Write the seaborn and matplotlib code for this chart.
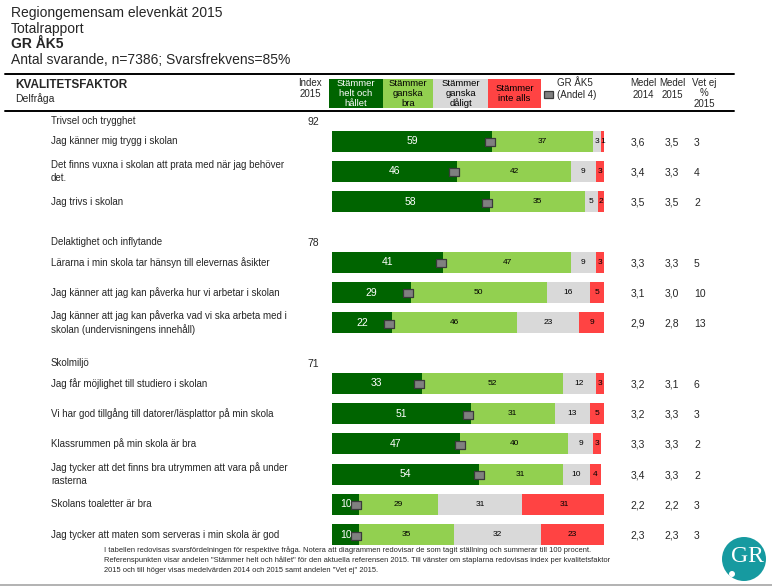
import matplotlib
matplotlib.use("Agg")
import matplotlib.pyplot as plt
import matplotlib.transforms as mtransforms
from matplotlib.patches import Rectangle, Ellipse
from matplotlib.lines import Line2D
import numpy as np
import seaborn as sns

# ---------------- data ----------------
groups = ["Trivsel och trygghet", "Delaktighet och inflytande", "Skolmiljö"]
index_2015 = [92, 78, 71]

questions = [
    "Jag känner mig trygg i skolan",
    "Det finns vuxna i skolan att prata med när jag behöver\ndet.",
    "Jag trivs i skolan",
    "Lärarna i min skola tar hänsyn till elevernas åsikter",
    "Jag känner att jag kan påverka hur vi arbetar i skolan",
    "Jag känner att jag kan påverka vad vi ska arbeta med i\nskolan (undervisningens innehåll)",
    "Jag får möjlighet till studiero i skolan",
    "Vi har god tillgång till datorer/läsplattor på min skola",
    "Klassrummen på min skola är bra",
    "Jag tycker att det finns bra utrymmen att vara på under\nrasterna",
    "Skolans toaletter är bra",
    "Jag tycker att maten som serveras i min skola är god",
]
question_group = [0, 0, 0, 1, 1, 1, 2, 2, 2, 2, 2, 2]

helt_och_hallet = [59, 46, 58, 41, 29, 22, 33, 51, 47, 54, 10, 10]
ganska_bra = [37, 42, 35, 47, 50, 46, 52, 31, 40, 31, 29, 35]
ganska_daligt = [3, 9, 5, 9, 16, 23, 12, 13, 9, 10, 31, 32]
inte_alls = [1, 3, 2, 3, 5, 9, 3, 5, 3, 4, 31, 23]
gr_ak5_andel4 = [58, 45, 57, 40, 28, 21, 32, 50, 47, 54, 9, 9]

medel_2014 = [3.6, 3.4, 3.5, 3.3, 3.1, 2.9, 3.2, 3.2, 3.3, 3.4, 2.2, 2.3]
medel_2015 = [3.5, 3.3, 3.5, 3.3, 3.0, 2.8, 3.1, 3.3, 3.3, 3.3, 2.2, 2.3]
vet_ej = [3, 4, 2, 5, 10, 13, 6, 3, 2, 2, 3, 3]

legend_labels = ["Stämmer\nhelt och\nhållet", "Stämmer\nganska\nbra",
                 "Stämmer\nganska\ndåligt", "Stämmer\ninte alls"]

footnote_lines = [
    "I tabellen redovisas svarsfördelningen för respektive fråga. Notera att diagrammen redovisar de som tagit ställning och summerar till 100 procent.",
    "Referenspunkten visar andelen \"Stämmer helt och hållet\" för den aktuella referensen 2015. Till vänster om staplarna redovisas index per kvalitetsfaktor",
    "2015 och till höger visas medelvärden 2014 och 2015 samt andelen \"Vet ej\" 2015.",
]

# ---------------- style ----------------
sns.set_style("white")
plt.rcParams["font.family"] = ["Liberation Sans", "DejaVu Sans"]

seg_colors = ["#006400", "#92D050", "#D9D9D9", "#FF4343"]
marker_face = "#808080"
marker_edge = "#3A3A3A"

W, H = 772, 586
fig = plt.figure(figsize=(W / 100, H / 100), dpi=100)
fig.patch.set_facecolor("white")


def fx(px):
    return px / W


def fy(py):
    return 1 - py / H


# row slots: one empty slot between groups
slots = [i + g for i, g in enumerate(question_group)]
n_slots = slots[-1] + 1
row_top, row_bot = 141.2, 534.7
step = (row_bot - row_top) / (n_slots - 1)
ax_top = row_top - step / 2
ax_bot = row_bot + step / 2
bar_left, bar_right = 332, 603.7
ax = fig.add_axes([fx(bar_left), fy(ax_bot), fx(bar_right) - fx(bar_left), (ax_bot - ax_top) / H])

segments = [helt_och_hallet, ganska_bra, ganska_daligt, inte_alls]
cum = np.cumsum(np.array(segments), axis=0)
for k in reversed(range(len(segments))):
    sns.barplot(x=list(cum[k]), y=slots, orient="y", native_scale=True,
                color=seg_colors[k], saturation=1, width=0.69, linewidth=0,
                errorbar=None, ax=ax)

# segment labels
for i in range(len(questions)):
    left = 0
    for k, seg in enumerate(segments):
        v = seg[i]
        ax.text(left + v / 2, slots[i], str(v), ha="center", va="center",
                color="white" if k == 0 else "black",
                fontsize=7.5 if k == 0 else 6, zorder=6)
        left += v

# reference markers
rect_marker = [(-1, -0.72), (1, -0.72), (1, 0.72), (-1, 0.72), (-1, -0.72)]
sns.scatterplot(x=gr_ak5_andel4, y=[s + 0.03 for s in slots], marker=rect_marker,
                s=55, color=marker_face, edgecolor=marker_edge, linewidth=0.9,
                ax=ax, zorder=7, legend=False)

ax.set_xlim(0, 100)
ax.set_ylim(n_slots - 0.5, -0.5)
ax.set_axis_off()

trans = mtransforms.blended_transform_factory(fig.transFigure, ax.transData)

# question texts and right-hand columns
for i, q in enumerate(questions):
    ax.text(fx(51), slots[i], q, transform=trans, ha="left", va="center",
            fontsize=7, linespacing=1.35)
    ax.text(fx(638), slots[i] + 0.03, f"{medel_2014[i]:.1f}".replace(".", ","),
            transform=trans, ha="center", va="center", fontsize=7.5)
    ax.text(fx(672), slots[i] + 0.03, f"{medel_2015[i]:.1f}".replace(".", ","),
            transform=trans, ha="center", va="center", fontsize=7.5)
    ax.text(fx(694), slots[i] + 0.05, str(vet_ej[i]), transform=trans,
            ha="left", va="center", fontsize=7.5)

# group headers and index
for g, name in enumerate(groups):
    first = slots[question_group.index(g)]
    ax.text(fx(51), first - 0.67, name, transform=trans, ha="left", va="center", fontsize=7)
    ax.text(fx(313.5), first - 0.64, str(index_2015[g]), transform=trans,
            ha="center", va="center", fontsize=7.5)

# ---------------- header ----------------
fig.text(fx(11), fy(12.5), "Regiongemensam elevenkät 2015", fontsize=10, va="center")
fig.text(fx(11), fy(28.5), "Totalrapport", fontsize=10, va="center")
fig.text(fx(11), fy(43.5), "GR ÅK5", fontsize=10, fontweight="bold", va="center")
fig.text(fx(11), fy(59.5), "Antal svarande, n=7386; Svarsfrekvens=85%", fontsize=10, va="center")

for ypx in (73.5, 110.7):
    fig.add_artist(Line2D([fx(5), fx(734)], [fy(ypx), fy(ypx)], color="black", lw=1.4))

fig.text(fx(15), fy(85), "KVALITETSFAKTOR", fontsize=8.5, fontweight="bold", va="center")
fig.text(fx(15), fy(99), "Delfråga", fontsize=7.5, va="center")
fig.text(fx(310), fy(88.5), "Index\n2015", fontsize=7, ha="center", va="center", linespacing=1.13)

box_edges = [(329, 383), (383, 433), (433, 488), (488, 541)]
for k, ((x0, x1), lab) in enumerate(zip(box_edges, legend_labels)):
    fig.add_artist(Rectangle((fx(x0), fy(108)), fx(x1) - fx(x0), 29 / H,
                             transform=fig.transFigure, facecolor=seg_colors[k],
                             edgecolor="none"))
    fig.text(fx((x0 + x1) / 2), fy(93.5), lab, fontsize=6.8, ha="center", va="center",
             color="white" if k == 0 else "black", linespacing=1.1)

fig.add_artist(Rectangle((fx(544), fy(97.5)), 9 / W, 7 / H, transform=fig.transFigure,
                         facecolor=marker_face, edgecolor=marker_edge, lw=0.9))
fig.text(fx(557), fy(82.7), "GR ÅK5", fontsize=7, va="center")
fig.text(fx(557), fy(94.7), "(Andel 4)", fontsize=7, va="center")

fig.text(fx(643), fy(89), "Medel\n2014", fontsize=7, ha="center", va="center", linespacing=1.22)
fig.text(fx(672), fy(89), "Medel\n2015", fontsize=7, ha="center", va="center", linespacing=1.22)
fig.text(fx(704), fy(93.2), "Vet ej\n%\n2015", fontsize=7, ha="center", va="center", linespacing=1.08)

# ---------------- footnote ----------------
for j, line in enumerate(footnote_lines):
    fig.text(fx(104), fy(550 + 10 * j), line, fontsize=5.4, va="center")

fig.add_artist(Line2D([0, 1], [fy(585), fy(585)], color="#A6A6A6", lw=1.2))

# ---------------- logo ----------------
fig.add_artist(Ellipse((fx(744), fy(559)), 44 / W, 44 / H, transform=fig.transFigure,
                       facecolor="#169AA0", edgecolor="none"))
fig.text(fx(747), fy(557), "GR", fontsize=17, color="white", ha="center", va="center",
         family=["Liberation Serif", "DejaVu Serif"])
fig.add_artist(Ellipse((fx(732), fy(574)), 6 / W, 6 / H, transform=fig.transFigure,
                       facecolor="white", edgecolor="none"))

fig.savefig("out.png", dpi=100)
